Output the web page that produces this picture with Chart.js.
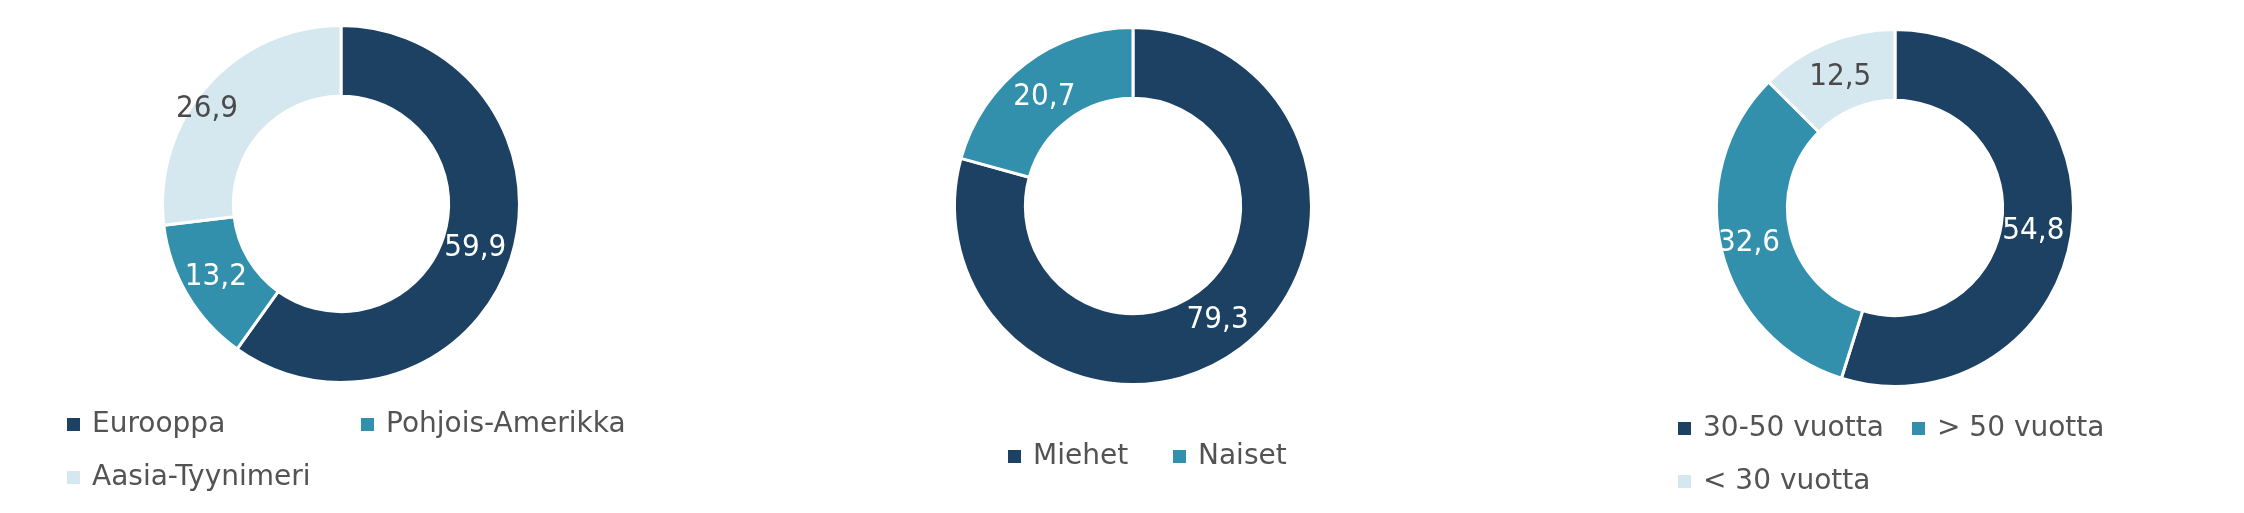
<!DOCTYPE html>
<html><head><meta charset="utf-8">
<script src="https://cdn.jsdelivr.net/npm/chart.js@4.4.0/dist/chart.umd.min.js"></script>
<style>
html,body{margin:0;padding:0;background:#fff;}
body{width:2244px;height:513px;position:relative;overflow:hidden;}
canvas{position:absolute;top:0;}
</style></head><body>
<canvas id="c1" width="748" height="513" style="left:0px"></canvas>
<canvas id="c2" width="748" height="513" style="left:748px"></canvas>
<canvas id="c3" width="748" height="513" style="left:1496px"></canvas>
<script>
// ---- data ----
const regionLabels = ['Eurooppa', 'Pohjois-Amerikka', 'Aasia-Tyynimeri'];
const regionValues = [59.9, 13.2, 26.9];
const genderLabels = ['Miehet', 'Naiset'];
const genderValues = [79.3, 20.7];
const ageLabels = ['30-50 vuotta', '> 50 vuotta', '< 30 vuotta'];
const ageValues = [54.8, 32.6, 12.5];

// ---- styles ----
const COLORS = ['#1c4163', '#3290ad', '#d5e8ef'];
const LABEL_COLORS = ['#ffffff', '#ffffff', '#4a4a4a'];
const LEGEND_TEXT = '#535353';
const LABEL_FONT = '31px "DejaVu Sans Condensed", "DejaVu Sans", sans-serif';
const LEGEND_FONT = '28px "DejaVu Sans", sans-serif';

const fmt = v => v.toFixed(1).replace('.', ',');

const arcLabels = {
  id: 'arcLabels',
  afterDatasetsDraw(chart, args, opts) {
    const ctx = chart.ctx;
    const meta = chart.getDatasetMeta(0);
    const vals = chart.data.datasets[0].data;
    const shifts = opts.shifts || [];
    ctx.save();
    ctx.font = LABEL_FONT;
    ctx.textAlign = 'center';
    ctx.textBaseline = 'middle';
    meta.data.forEach((arc, i) => {
      const p = arc.tooltipPosition();
      const s = shifts[i] || [0, 0];
      ctx.fillStyle = LABEL_COLORS[i];
      ctx.fillText(fmt(vals[i]), p.x + s[0], p.y + 1 + s[1]);
    });
    ctx.restore();
  }
};

const boxLegend = {
  id: 'boxLegend',
  afterDraw(chart, args, opts) {
    const ctx = chart.ctx;
    const labels = chart.data.labels;
    const colors = chart.data.datasets[0].backgroundColor;
    ctx.save();
    ctx.font = LEGEND_FONT;
    ctx.textAlign = 'left';
    ctx.textBaseline = 'alphabetic';
    labels.forEach((lab, i) => {
      const [x, y] = opts.slots[i];
      ctx.fillStyle = colors[i];
      ctx.fillRect(x, y - 14, 13, 13);
      ctx.fillStyle = LEGEND_TEXT;
      ctx.fillText(lab, x + 25, y);
    });
    ctx.restore();
  }
};

function makeChart(id, labels, values, cx, cy, slots, shifts) {
  const S = 185, W = 748, H = 513;
  return new Chart(document.getElementById(id), {
    type: 'doughnut',
    data: {
      labels: labels,
      datasets: [{
        data: values,
        backgroundColor: COLORS.slice(0, values.length),
        borderColor: '#ffffff',
        borderWidth: 3
      }]
    },
    options: {
      responsive: false,
      animation: false,
      radius: 178.5,
      cutout: '60.3%',
      layout: { padding: { left: cx - S, top: cy - S, right: W - (cx + S), bottom: H - (cy + S) } },
      plugins: {
        legend: { display: false },
        tooltip: { enabled: false },
        boxLegend: { slots: slots },
        arcLabels: { shifts: shifts }
      }
    },
    plugins: [arcLabels, boxLegend]
  });
}

makeChart('c1', regionLabels, regionValues, 341, 204,
  [[67, 432], [361, 432], [67, 485]], [[-2, -1], [-2, -1], [-27, -1]]);
makeChart('c2', genderLabels, genderValues, 385, 206,
  [[260, 464], [425, 464]], [[-2, -1], [-2, 4]]);
makeChart('c3', ageLabels, ageValues, 399, 208,
  [[182, 436], [416, 436], [182, 489]], [[-3, 0], [-7, 0], [0, 0]]);
</script>
</body></html>
